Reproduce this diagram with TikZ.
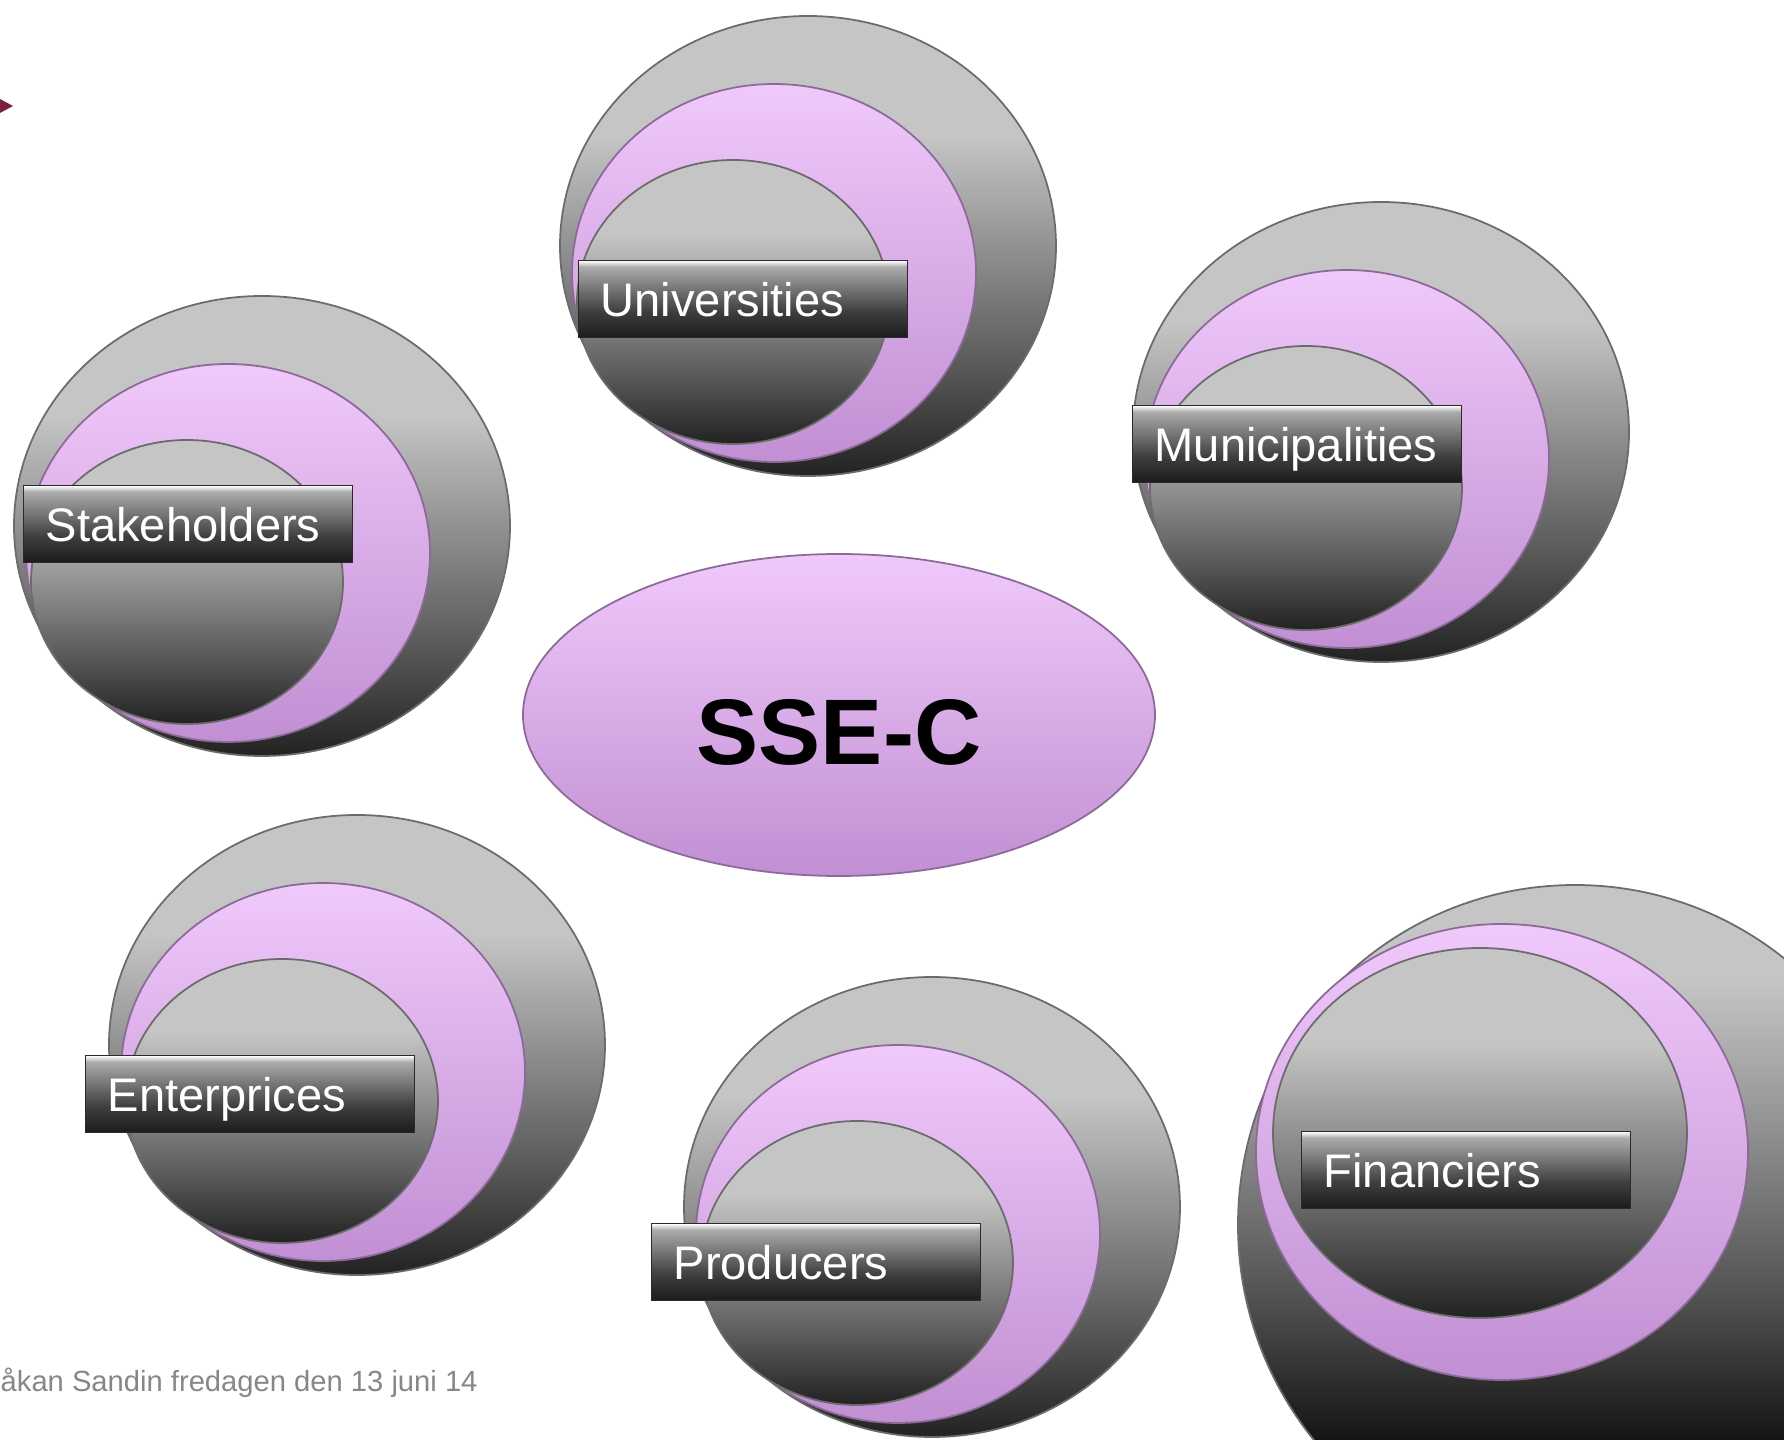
\documentclass[tikz,border=0pt]{standalone}
\usepackage{fontspec}
\setmainfont{Liberation Sans}
\usetikzlibrary{shapes.geometric}

\definecolor{discTop}{HTML}{C5C5C5}
\definecolor{discMid}{HTML}{9A9A9A}
\definecolor{discLow}{HTML}{5E5E5E}
\definecolor{discBot}{HTML}{222222}
\definecolor{discEdge}{HTML}{6B6B6B}
\definecolor{ringTop}{HTML}{F0C9FB}
\definecolor{ringBot}{HTML}{C18FD3}
\definecolor{ringEdge}{HTML}{8C6A98}
\definecolor{tagTop}{HTML}{ABABAB}
\definecolor{tagMid}{HTML}{7A7A7A}
\definecolor{tagLow}{HTML}{3E3E3E}
\definecolor{tagBot}{HTML}{1B1B1B}
\definecolor{tagEdge}{HTML}{2A2A2A}
\definecolor{footGrey}{HTML}{878787}
\definecolor{arrowRed}{HTML}{7A2142}
\definecolor{finBot}{HTML}{131313}
\definecolor{finLow}{HTML}{4E4E4E}

\pgfdeclareverticalshading{discshade}{100bp}{color(0bp)=(discBot); color(25bp)=(discBot); color(38bp)=(discLow); color(52bp)=(discMid); color(62bp)=(discTop); color(75bp)=(discTop); color(100bp)=(discTop)}
\pgfdeclareverticalshading{finshade}{100bp}{color(0bp)=(finBot); color(34bp)=(finBot); color(44bp)=(finLow); color(59bp)=(discMid); color(68bp)=(discTop); color(75bp)=(discTop); color(100bp)=(discTop)}
\pgfdeclareverticalshading{tagshade}{100bp}{color(0bp)=(tagBot); color(25bp)=(tagBot); color(42bp)=(tagLow); color(58bp)=(tagMid); color(71bp)=(tagTop); color(75bp)=(white); color(100bp)=(white)}

\tikzset{
  disc/.style={ellipse, inner sep=0pt, shade, shading=discshade, draw=discEdge, line width=0.5pt},
  ring/.style={ellipse, inner sep=0pt, top color=ringTop, bottom color=ringBot, draw=ringEdge, line width=0.5pt},
  tag/.style={rectangle, anchor=north west, inner xsep=2.2mm, inner ysep=0pt,
    minimum width=32.9mm, minimum height=7.7mm, text width=28.5mm, align=left,
    text height=3.4mm, text depth=0pt, shade, shading=tagshade, draw=tagEdge,
    line width=0.4pt, text=white, font=\fontsize{13.4}{16}\selectfont}
}

\begin{document}
\begin{tikzpicture}[x=0.1mm,y=-0.1mm]
\useasboundingbox (0,0) rectangle (1784,1440);
\fill[white] (0,0) rectangle (1784,1440);
\clip (0,0) rectangle (1784,1440);

% slide marker
\fill[arrowRed] (0,99) -- (13,106) -- (0,113) -- cycle;

% five equal badges: outer disc, ring, core, tag
\foreach \id/\cx/\cy/\lx/\ly/\txt in {uni/808/246/578/260/Universities,
    mun/1381/432/1132/405/Municipalities, stk/262/526/23/485/Stakeholders,
    ent/357/1045/85/1055/Enterprices, pro/932/1207/651/1223/Producers}
{
  \node[disc, minimum width=49.6mm, minimum height=46mm] (\id-out) at (\cx,\cy) {};
  \node[ring, minimum width=40.4mm, minimum height=37.8mm] (\id-ring) at (\cx-34,\cy+27) {};
  \node[disc, minimum width=31.2mm, minimum height=28.4mm] (\id-core) at (\cx-75,\cy+56) {};
  \node[tag] (\id-tag) at (\lx,\ly) {\txt};
}

% the larger badge at the right edge
\node[disc, shading=finshade, minimum width=67.4mm, minimum height=68mm] (fin-out) at (1575,1225) {};
\node[ring, minimum width=49.2mm, minimum height=45.6mm] (fin-ring) at (1502,1152) {};
\node[disc, minimum width=41.4mm, minimum height=37mm] (fin-core) at (1480,1133) {};
\node[tag] (fin-tag) at (1301,1131) {Financiers};

% centre
\node[ellipse, inner sep=0pt, minimum width=63.2mm, minimum height=32.2mm,
  top color=ringTop, bottom color=ringBot, draw=ringEdge, line width=0.5pt,
  font=\fontsize{26.5}{30}\selectfont\bfseries, text height=10mm, text depth=0pt]
  (ssec) at (839,715) {SSE-C};

% footer
\node[anchor=base west, inner sep=0pt, text=footGrey, font=\fontsize{8.3}{10}\selectfont]
  (foot) at (0,1392) {åkan Sandin fredagen den 13 juni 14};
\end{tikzpicture}
\end{document}
